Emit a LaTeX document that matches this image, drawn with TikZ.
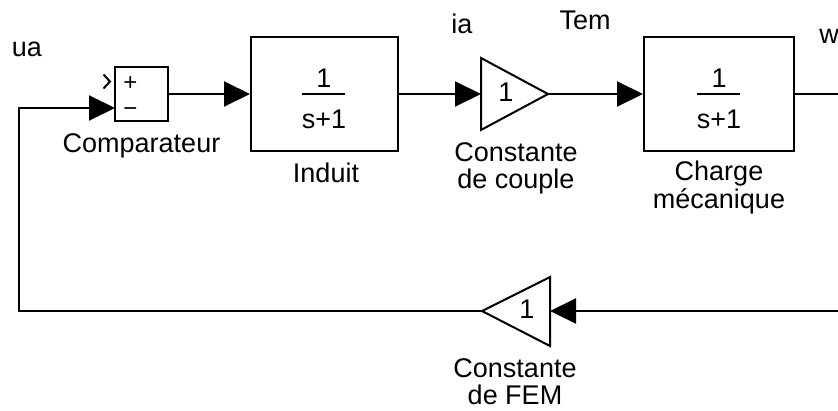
\documentclass[tikz,border=0pt]{standalone}
\usepackage{fontspec}
\setmainfont{Liberation Sans}
\usetikzlibrary{arrows.meta}
\tikzset{
  lbl/.style={anchor=base, inner sep=0pt, font=\fontsize{27}{27}\selectfont},
  sign/.style={anchor=base, inner sep=0pt, text height=15pt, text depth=0pt, font=\fontsize{24}{24}\selectfont},
  blockbox/.style={draw, line width=2pt, rectangle, inner sep=0pt},
  wire/.style={line width=2pt},
  arr/.style={wire, -{Triangle[length=26pt,width=25pt]}},
}
\begin{document}
\begin{tikzpicture}[x=1pt,y=-1pt]
\useasboundingbox (0,0) rectangle (838,410);
% blocks
\node[blockbox, minimum width=53pt, minimum height=54pt] (cmp) at (141.5,94) {};
\node[blockbox, minimum width=147pt, minimum height=114pt] (induit) at (324.5,94) {};
\node[blockbox, minimum width=150pt, minimum height=114pt] (charge) at (719,94) {};
% gain triangles
\draw[wire, line join=miter] (481,58) -- (481,130) -- (548,94) -- cycle;
\coordinate (g1in) at (481,94);
\coordinate (g1out) at (548,94);
\draw[wire, line join=miter] (550,277) -- (550,346) -- (482,311) -- cycle;
\coordinate (g2in) at (550,311);
\coordinate (g2out) at (482,311);
% ports and corners
\coordinate (cmpin2) at (115,108);
\coordinate (topright) at (840,94);
\coordinate (botright) at (840,311);
\coordinate (cornerB) at (19,311);
\coordinate (cornerT) at (19,108);
% chevron on + input
\draw[line width=2pt] (103.5,74.5) -- (110,81.5) -- (103.5,88.5);
% signs
\node[sign] (plus) at (130.5,90.5) {+};
\node[sign] (minus) at (130.5,116.5) {−};
% fractions
\node[lbl] (n1) at (324,87) {1};
\draw[wire] (302,94) -- (345,94);
\node[lbl] (d1) at (324,128) {s+1};
\node[lbl] (n2) at (719,87) {1};
\draw[wire] (697,94) -- (740,94);
\node[lbl] (d2) at (719,128) {s+1};
% gains values
\node[lbl] (k1) at (506,101) {1};
\node[lbl] (k2) at (527,318) {1};
% connectors
\draw[arr] (cmp.east) -- (induit.west);
\draw[arr] (induit.east) -- (g1in);
\draw[arr] (g1out) -- (charge.west);
\draw[wire] (charge.east) -- (topright);
\draw[arr] (botright) -- (g2in);
\draw[arr] (g2out) -- (cornerB) -- (cornerT) -- (cmpin2);
% labels
\node[lbl] (ua) at (27,56) {ua};
\node[lbl] (ia) at (462,33) {ia};
\node[lbl] (tem) at (585,29) {Tem};
\node[lbl] (w) at (829,43) {w};
\node[lbl] (lcmp) at (141.5,152) {Comparateur};
\node[lbl] (lind) at (326,182) {Induit};
\node[lbl] (lcc1) at (516,161) {Constante};
\node[lbl] (lcc2) at (516,188) {de couple};
\node[lbl] (lch1) at (719,180) {Charge};
\node[lbl] (lch2) at (719,208) {mécanique};
\node[lbl] (lfem1) at (515,377) {Constante};
\node[lbl] (lfem2) at (515,404) {de FEM};
\end{tikzpicture}
\end{document}
